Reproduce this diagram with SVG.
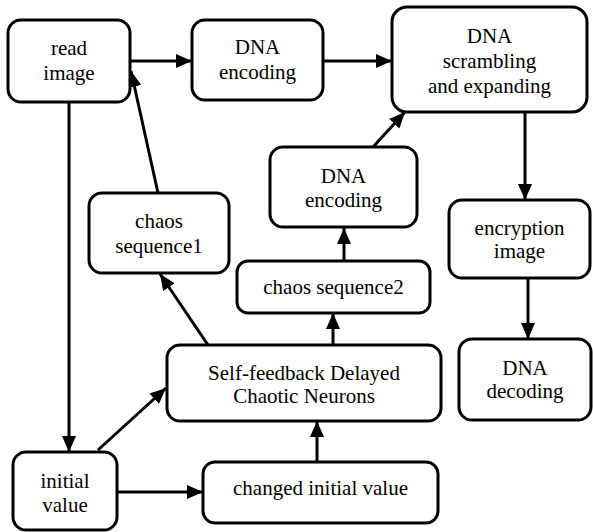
<svg xmlns="http://www.w3.org/2000/svg" width="593" height="532" viewBox="0 0 593 532">
<style>
.box{fill:#fff;stroke:#000;stroke-width:3}
.t{font-family:"Liberation Serif","Times New Roman",serif;font-size:21px;fill:#000;text-anchor:middle}
.c{stroke:#000;stroke-width:3;fill:none;marker-end:url(#ah)}
</style>
<defs>
<marker id="ah" markerUnits="userSpaceOnUse" markerWidth="17" markerHeight="16" refX="16" refY="7.5" orient="auto">
<path d="M0,0.5 L16,7.5 L0,14.5 z" fill="#000"/>
</marker>
</defs>
<rect width="593" height="532" fill="#fff"/>
<g id="connectors">
<line class="c" x1="130" y1="61" x2="192" y2="61"/>
<line class="c" x1="323" y1="61" x2="392" y2="61"/>
<line class="c" x1="525" y1="112" x2="525" y2="200"/>
<line class="c" x1="528" y1="278" x2="528" y2="339"/>
<line class="c" x1="69" y1="102" x2="69" y2="452"/>
<line class="c" x1="117" y1="492" x2="203" y2="492"/>
<line class="c" x1="317" y1="462" x2="317" y2="421"/>
<line class="c" x1="98" y1="450" x2="166" y2="388"/>
<line class="c" x1="208" y1="345" x2="160" y2="274"/>
<line class="c" x1="158" y1="193" x2="131" y2="71"/>
<line class="c" x1="333" y1="345" x2="333" y2="313"/>
<line class="c" x1="344" y1="261" x2="344" y2="228"/>
<line class="c" x1="373" y1="147" x2="405" y2="112"/>
</g>
<g id="read-image">
<rect class="box" x="8" y="20" width="122" height="82" rx="13"/>
<text class="t" x="69" y="55">read</text>
<text class="t" x="69" y="80">image</text>
</g>
<g id="dna-encoding-1">
<rect class="box" x="192" y="20" width="131" height="80" rx="13"/>
<text class="t" x="257.5" y="54">DNA</text>
<text class="t" x="257.5" y="79">encoding</text>
</g>
<g id="dna-scrambling">
<rect class="box" x="392" y="7" width="195" height="105" rx="15"/>
<text class="t" x="489.5" y="43">DNA</text>
<text class="t" x="489.5" y="68">scrambling</text>
<text class="t" x="489.5" y="93">and expanding</text>
</g>
<g id="dna-encoding-2">
<rect class="box" x="270" y="147" width="147" height="80" rx="13"/>
<text class="t" x="343.5" y="183">DNA</text>
<text class="t" x="343.5" y="207">encoding</text>
</g>
<g id="chaos-sequence1">
<rect class="box" x="89" y="193" width="140" height="80" rx="13"/>
<text class="t" x="159" y="228">chaos</text>
<text class="t" x="159" y="253">sequence1</text>
</g>
<g id="chaos-sequence2">
<rect class="box" x="237" y="261" width="193" height="52" rx="11"/>
<text class="t" x="333.5" y="294">chaos sequence2</text>
</g>
<g id="encryption-image">
<rect class="box" x="449" y="200" width="141" height="78" rx="13"/>
<text class="t" x="519.5" y="235">encryption</text>
<text class="t" x="519.5" y="258">image</text>
</g>
<g id="self-feedback">
<rect class="box" x="167" y="345" width="274" height="76" rx="13"/>
<text class="t" x="304" y="380">Self-feedback Delayed</text>
<text class="t" x="304" y="403">Chaotic Neurons</text>
</g>
<g id="dna-decoding">
<rect class="box" x="459" y="339" width="132" height="81" rx="13"/>
<text class="t" x="525" y="375">DNA</text>
<text class="t" x="525" y="398">decoding</text>
</g>
<g id="initial-value">
<rect class="box" x="13" y="452" width="104" height="78" rx="13"/>
<text class="t" x="65" y="488">initial</text>
<text class="t" x="65" y="512">value</text>
</g>
<g id="changed-initial-value">
<rect class="box" x="203" y="462" width="235" height="61" rx="12"/>
<text class="t" x="320.5" y="495">changed initial value</text>
</g>
</svg>
